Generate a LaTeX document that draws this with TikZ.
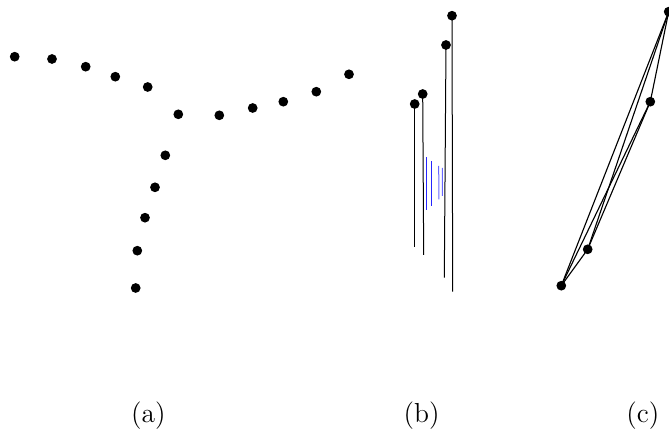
\documentclass[tikz,border=0pt]{standalone}
\begin{document}
\begin{tikzpicture}[x=0.4pt,y=-0.4pt,
  dot/.style={circle,fill=black,inner sep=0pt,minimum size=3.9pt},
  stem/.style={black,line width=0.4pt},
  bluestem/.style={blue!85,line width=0.4pt},
  edge/.style={black,line width=0.45pt},
  lbl/.style={anchor=base,font=\fontsize{11}{13}\selectfont,inner sep=0pt}]
\useasboundingbox (0,0) rectangle (669,432);
% panel (a)
\foreach \n/\x/\y in {a1/14.7/56.7,a2/52/59,a3/85.7/66.7,a4/115.3/76.7,a5/147.7/87,
  a6/178.3/114.3,a7/219.3/115.3,a8/252.7/108,a9/283.3/101.7,a10/316.3/91.7,a11/349/74.3,
  a12/165.3/155.3,a13/155/187.3,a14/145/217.7,a15/137.3/250.7,a16/135.7/288}
  \node[dot] (\n) at (\x,\y) {};
% panel (b)
\node[dot] (b1) at (414.7,104) {};
\node[dot] (b2) at (422.7,94) {};
\node[dot] (b3) at (446,45) {};
\node[dot] (b4) at (452,15.7) {};
\coordinate (e1) at (414.7,246.7);
\coordinate (e2) at (423.7,255);
\coordinate (e3) at (444.3,277.7);
\coordinate (e4) at (452.7,291.7);
\draw[stem] (b1.center) -- (e1);
\draw[stem] (b2.center) -- (e2);
\draw[stem] (b3.center) -- (e3);
\draw[stem] (b4.center) -- (e4);
\coordinate (u1) at (427,157.5); \coordinate (v1) at (427,210);
\coordinate (u2) at (431.2,161.5); \coordinate (v2) at (431.2,206.3);
\coordinate (u3) at (438.7,165.8); \coordinate (v3) at (438.9,199.3);
\coordinate (u4) at (442.4,168); \coordinate (v4) at (442.5,195.8);
\draw[bluestem] (u1) -- (v1);
\draw[bluestem] (u2) -- (v2);
\draw[bluestem,blue!60] (u3) -- (v3);
\draw[bluestem,blue!60] (u4) -- (v4);
% panel (c)
\coordinate (c1p) at (668.7,11.7);
\coordinate (c2p) at (650.3,101.7);
\coordinate (c3p) at (587.7,249.3);
\coordinate (c4p) at (561.3,285.7);
\draw[edge] (c1p) -- (c2p);
\draw[edge] (c1p) -- (c3p);
\draw[edge] (c1p) -- (c4p);
\draw[edge] (c2p) -- (c3p);
\draw[edge] (c2p) -- (c4p);
\draw[edge] (c3p) -- (c4p);
\node[dot] (c1) at (c1p) {};
\node[dot] (c2) at (c2p) {};
\node[dot] (c3) at (c3p) {};
\node[dot] (c4) at (c4p) {};
% labels
\node[lbl] (la) at (148.3,423) {(a)};
\node[lbl] (lb) at (421.7,423) {(b)};
\node[lbl] (lc) at (642.8,423) {(c)};
\end{tikzpicture}
\end{document}
